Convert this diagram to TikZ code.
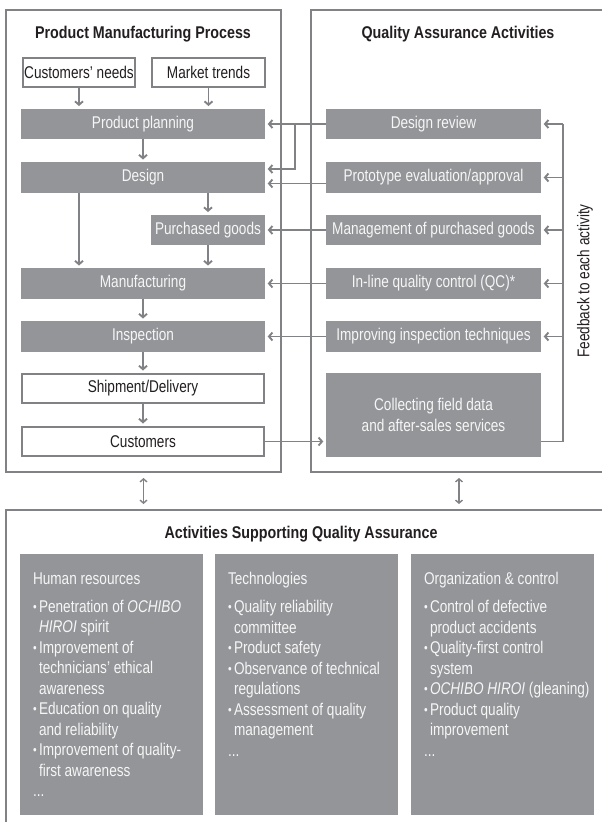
\documentclass[tikz,border=0pt]{standalone}
\usepackage{fontspec}
\setmainfont{Liberation Sans}[FakeStretch=0.8]
\newfontfamily\headfont{Liberation Sans}[FakeStretch=0.84]
\usetikzlibrary{arrows.meta}

\definecolor{boxgray}{RGB}{147,149,152}
\definecolor{linegray}{RGB}{128,130,133}
\definecolor{boxtext}{RGB}{246,246,246}
\definecolor{inktext}{RGB}{35,31,32}

\newcommand{\qbul}{\makebox[6pt][l]{\raisebox{1.2pt}{\fontsize{13}{13}\selectfont\textbullet}}}
\newcommand{\qind}{\hspace*{6pt}}

\begin{document}
\begin{tikzpicture}[x=1pt, y=-1pt,
    font=\fontsize{17}{20.5}\selectfont,
    frame/.style={draw=linegray, line width=2pt},
    link/.style={draw=linegray, line width=1.9pt},
    arr/.style={link, -{Straight Barb[length=3.5pt,width=8pt]}, shorten >=2.5pt},
    dbl/.style={draw=linegray, line width=1.4pt,
      {Straight Barb[length=3pt,width=7pt]}-{Straight Barb[length=3pt,width=7pt]},
      shorten <=5pt, shorten >=5pt},
    graybox/.style={fill=boxgray, text=boxtext, inner sep=0pt, minimum height=30.5pt},
    whitebox/.style={frame, fill=white, text=inktext, inner sep=0pt, minimum height=29pt},
    title/.style={font=\fontsize{17}{20}\headfont\bfseries, text=inktext},
    listtext/.style={text=boxtext, align=left, inner sep=0pt, anchor=north west}]

    \useasboundingbox (0,0) rectangle (602,822);
    \clip (0,0) rectangle (602,822);

    % outer frames
    \node[frame, minimum width=275pt, minimum height=462pt] (pmp) at (143.5,241) {};
    \node[frame, minimum width=296pt, minimum height=462pt] (qaa) at (459,241) {};
    \node[frame, minimum width=614pt, minimum height=330pt] (sqa) at (313,675) {};

    \node[title] (pmpt) at (143,34) {Product Manufacturing Process};
    \node[title] (qaat) at (458,34) {Quality Assurance Activities};
    \node[title] (sqat) at (301,534) {Activities Supporting Quality Assurance};

    % manufacturing process
    \node[whitebox, minimum width=112pt] (cneeds) at (79,72) {Customers' needs};
    \node[whitebox, minimum width=113pt] (mtrends) at (208.5,72) {Market trends};
    \node[graybox, minimum width=244pt] (planning) at (143,124) {Product planning};
    \node[graybox, minimum width=244pt] (design) at (143,177.5) {Design};
    \node[graybox, minimum width=114pt] (purchased) at (208,230) {Purchased goods};
    \node[graybox, minimum width=244pt] (manufacturing) at (143,283.5) {Manufacturing};
    \node[graybox, minimum width=244pt] (inspection) at (143,336.5) {Inspection};
    \node[whitebox, minimum width=242pt] (shipment) at (143,388.5) {Shipment/Delivery};
    \node[whitebox, minimum width=242pt] (customers) at (143,441.5) {Customers};

    % quality assurance
    \node[graybox, minimum width=215pt] (review) at (433.5,124) {Design review};
    \node[graybox, minimum width=215pt] (proto) at (433.5,177.5) {Prototype evaluation/approval};
    \node[graybox, minimum width=215pt] (mgmt) at (433.5,230) {Management of purchased goods};
    \node[graybox, minimum width=215pt] (inline) at (433.5,283.5) {In-line quality control (QC)*};
    \node[graybox, minimum width=215pt] (improving) at (433.5,336.5) {Improving inspection techniques};
    \node[graybox, minimum width=215pt, minimum height=84pt, align=center] (collecting) at (433.5,415)
        {Collecting field data\\and after-sales services};

    \node[rotate=90, text=inktext] (fbt) at (585,281) {Feedback to each activity};

    % process flow
    \draw[arr] (cneeds.south) -- (cneeds.south |- planning.north);
    \draw[arr] (mtrends.south) -- (mtrends.south |- planning.north);
    \draw[arr] (planning.south) -- (design.north);
    \draw[arr] (design.south -| cneeds.south) -- (manufacturing.north -| cneeds.south);
    \draw[arr] (design.south -| purchased.north) -- (purchased.north);
    \draw[arr] (purchased.south) -- (manufacturing.north -| purchased.south);
    \draw[arr] (manufacturing.south) -- (inspection.north);
    \draw[arr] (inspection.south) -- (shipment.north);
    \draw[arr] (shipment.south) -- (customers.north);

    % quality assurance to process
    \coordinate (brx) at (295,124);
    \draw[arr] (review.west) -- (planning.east);
    \draw[arr] (brx) |- ([yshift=8.5pt]design.east);
    \draw[arr] ([yshift=-6pt]proto.west) -- ([yshift=-6pt]design.east);
    \draw[arr] (mgmt.west) -- (purchased.east);
    \draw[arr] (inline.west) -- (manufacturing.east);
    \draw[arr] (improving.west) -- (inspection.east);
    \draw[arr] (customers.east) -- (customers.east -| collecting.west);

    % feedback loop
    \coordinate (fbx) at (563,124);
    \draw[link] (customers.east -| collecting.east) -| (fbx);
    \foreach \n in {review,proto,mgmt,inline,improving}
        \draw[arr] (\n.east -| fbx) -- (\n.east);

    \draw[dbl] (pmp.south) -- (pmp.south |- sqa.north);
    \draw[dbl] (qaa.south) -- (qaa.south |- sqa.north);

    % supporting activities
    \node[graybox, minimum width=183pt, minimum height=261pt] (hr) at (111.5,684.5) {};
    \node[graybox, minimum width=183pt, minimum height=261pt] (tech) at (306.5,684.5) {};
    \node[graybox, minimum width=183pt, minimum height=261pt] (org) at (502.5,684.5) {};

    \node[listtext] (hrt) at ([xshift=13pt,yshift=-18.5pt]hr.north west)
        {Human resources\\[7.5pt]
         \qbul Penetration of \textit{OCHIBO}\\
         \qind\textit{HIROI} spirit\\
         \qbul Improvement of\\
         \qind technicians' ethical\\
         \qind awareness\\
         \qbul Education on quality\\
         \qind and reliability\\
         \qbul Improvement of quality-\\
         \qind first awareness\\
         ...};
    \node[listtext] (techt) at ([xshift=13pt,yshift=-18.5pt]tech.north west)
        {Technologies\\[7.5pt]
         \qbul Quality reliability\\
         \qind committee\\
         \qbul Product safety\\
         \qbul Observance of technical\\
         \qind regulations\\
         \qbul Assessment of quality\\
         \qind management\\
         ...};
    \node[listtext] (orgt) at ([xshift=13pt,yshift=-18.5pt]org.north west)
        {Organization \& control\\[7.5pt]
         \qbul Control of defective\\
         \qind product accidents\\
         \qbul Quality-first control\\
         \qind system\\
         \qbul \textit{OCHIBO HIROI} (gleaning)\\
         \qbul Product quality\\
         \qind improvement\\
         ...};
\end{tikzpicture}
\end{document}
